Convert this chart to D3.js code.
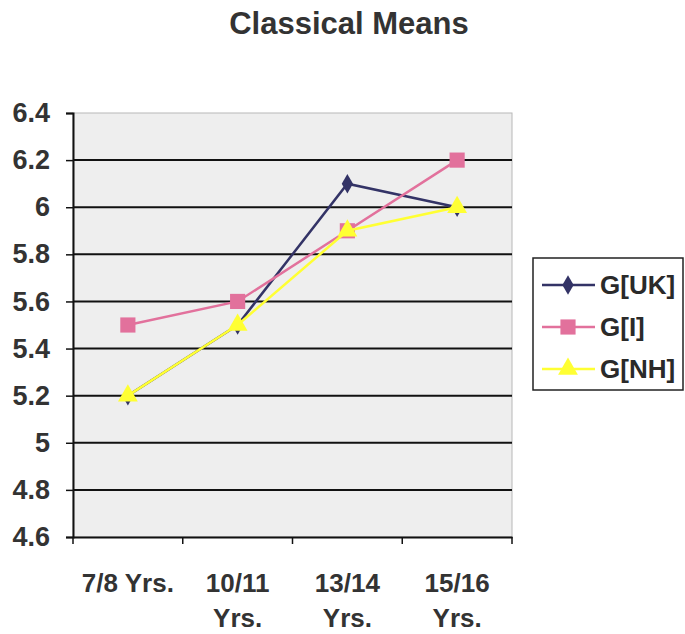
<!DOCTYPE html>
<html lang="en">
<head>
<meta charset="utf-8">
<title>Classical Means</title>
<style>
  body { margin: 0; background: #fff; }
  text { font-family: "Liberation Sans", Arial, sans-serif; fill: #333; font-weight: bold; }
  .grid line { stroke: #111; stroke-width: 2; }
  .legend text { font-size: 26px; fill: #2a2a2a; }
</style>
</head>
<body>
<div id="chart"></div>
<script src="https://d3js.org/d3.v7.min.js"></script>
<script>
// data
var categories = [["7/8 Yrs."], ["10/11", "Yrs."], ["13/14", "Yrs."], ["15/16", "Yrs."]];
var seriesNames = ["G[UK]", "G[I]", "G[NH]"];
var gUK = [5.2, 5.5, 6.1, 6.0];
var gI  = [5.5, 5.6, 5.9, 6.2];
var gNH = [5.2, 5.5, 5.9, 6.0];
var yTicks = [4.6, 4.8, 5, 5.2, 5.4, 5.6, 5.8, 6, 6.2, 6.4];

var series = [
  {name: seriesNames[0], values: gUK, color: "#333366", symbol: d3.symbolDiamond, size: 110},
  {name: seriesNames[1], values: gI,  color: "#e2719c", symbol: d3.symbolSquare, size: 230},
  {name: seriesNames[2], values: gNH, color: "#ffff33", symbol: d3.symbolTriangle, size: 170}
];

var W = 685, H = 634;
var plot = {left: 73, top: 113, right: 512, bottom: 537};

var svg = d3.select("#chart").append("svg")
    .attr("width", W).attr("height", H);

svg.append("text")
    .attr("x", 349).attr("y", 34)
    .attr("text-anchor", "middle")
    .style("font-size", "31px")
    .text("Classical Means");

var x = d3.scaleBand()
    .domain(d3.range(categories.length))
    .range([plot.left, plot.right]);

var y = d3.scaleLinear()
    .domain([4.6, 6.4])
    .range([plot.bottom, plot.top]);

// plot background
svg.append("rect")
    .attr("x", plot.left).attr("y", plot.top)
    .attr("width", plot.right - plot.left).attr("height", plot.bottom - plot.top)
    .attr("fill", "#eeeeee")
    .attr("stroke", "#b8b8b8").attr("stroke-width", 1);

// gridlines
svg.append("g").attr("class", "grid")
  .selectAll("line")
  .data(yTicks.filter(function(d) { return d > 4.6 && d < 6.4; }))
  .enter().append("line")
    .attr("x1", plot.left).attr("x2", plot.right)
    .attr("y1", function(d) { return y(d); })
    .attr("y2", function(d) { return y(d); });

// y axis
var yAxis = svg.append("g")
    .attr("transform", "translate(" + plot.left + ",0)")
    .call(d3.axisLeft(y).tickValues(yTicks).tickSize(7).tickPadding(16).tickFormat(d3.format("")));
yAxis.select(".domain").attr("stroke", "#111").attr("stroke-width", 2);
yAxis.selectAll(".tick line").attr("stroke", "#111").attr("stroke-width", 1.5);
yAxis.selectAll(".tick text").style("font-size", "27px").attr("fill", "#333");

// x axis
var xAxis = svg.append("g")
    .attr("transform", "translate(0," + plot.bottom + ")")
    .call(d3.axisBottom(x).tickSize(0).tickFormat(""));
xAxis.select(".domain").attr("stroke", "#111").attr("stroke-width", 2);

svg.append("g").selectAll("line")
  .data(d3.range(categories.length + 1))
  .enter().append("line")
    .attr("x1", function(d) { return plot.left + d * x.step(); })
    .attr("x2", function(d) { return plot.left + d * x.step(); })
    .attr("y1", plot.bottom).attr("y2", plot.bottom + 7)
    .attr("stroke", "#111").attr("stroke-width", 1.5);

var xl = svg.append("g").selectAll("text")
  .data(categories)
  .enter().append("text")
    .attr("x", function(d, i) { return x(i) + x.bandwidth() / 2; })
    .attr("y", 592)
    .attr("text-anchor", "middle")
    .style("font-size", "26px");
xl.selectAll("tspan")
  .data(function(d) { return d; })
  .enter().append("tspan")
    .attr("x", function() { return d3.select(this.parentNode).attr("x"); })
    .attr("dy", function(d, i) { return i === 0 ? 0 : 35; })
    .text(function(d) { return d; });

// lines and markers
var line = d3.line()
    .x(function(d, i) { return x(i) + x.bandwidth() / 2; })
    .y(function(d) { return y(d); });

series.forEach(function(s) {
  svg.append("path")
      .datum(s.values)
      .attr("fill", "none")
      .attr("stroke", s.color)
      .attr("stroke-width", 2.5)
      .attr("d", line);
  svg.append("g").selectAll("path")
    .data(s.values)
    .enter().append("path")
      .attr("transform", function(d, i) { return "translate(" + (x(i) + x.bandwidth() / 2) + "," + y(d) + ")"; })
      .attr("d", d3.symbol().type(s.symbol).size(s.size))
      .attr("fill", s.color);
});

// legend
var lg = svg.append("g").attr("class", "legend");
lg.append("rect")
    .attr("x", 533).attr("y", 258).attr("width", 150).attr("height", 132)
    .attr("fill", "#fff").attr("stroke", "#222").attr("stroke-width", 1.5);
var items = lg.selectAll("g.item")
  .data(series)
  .enter().append("g").attr("class", "item")
    .attr("transform", function(d, i) { return "translate(0," + (285 + i * 42) + ")"; });
items.append("line")
    .attr("x1", 542).attr("x2", 595)
    .attr("stroke", function(d) { return d.color; })
    .attr("stroke-width", 2.5);
items.append("path")
    .attr("transform", "translate(568,0)")
    .attr("d", function(d) { return d3.symbol().type(d.symbol).size(d.size)(); })
    .attr("fill", function(d) { return d.color; });
items.append("text")
    .attr("x", 600).attr("y", 9)
    .text(function(d) { return d.name; });
</script>
</body>
</html>
